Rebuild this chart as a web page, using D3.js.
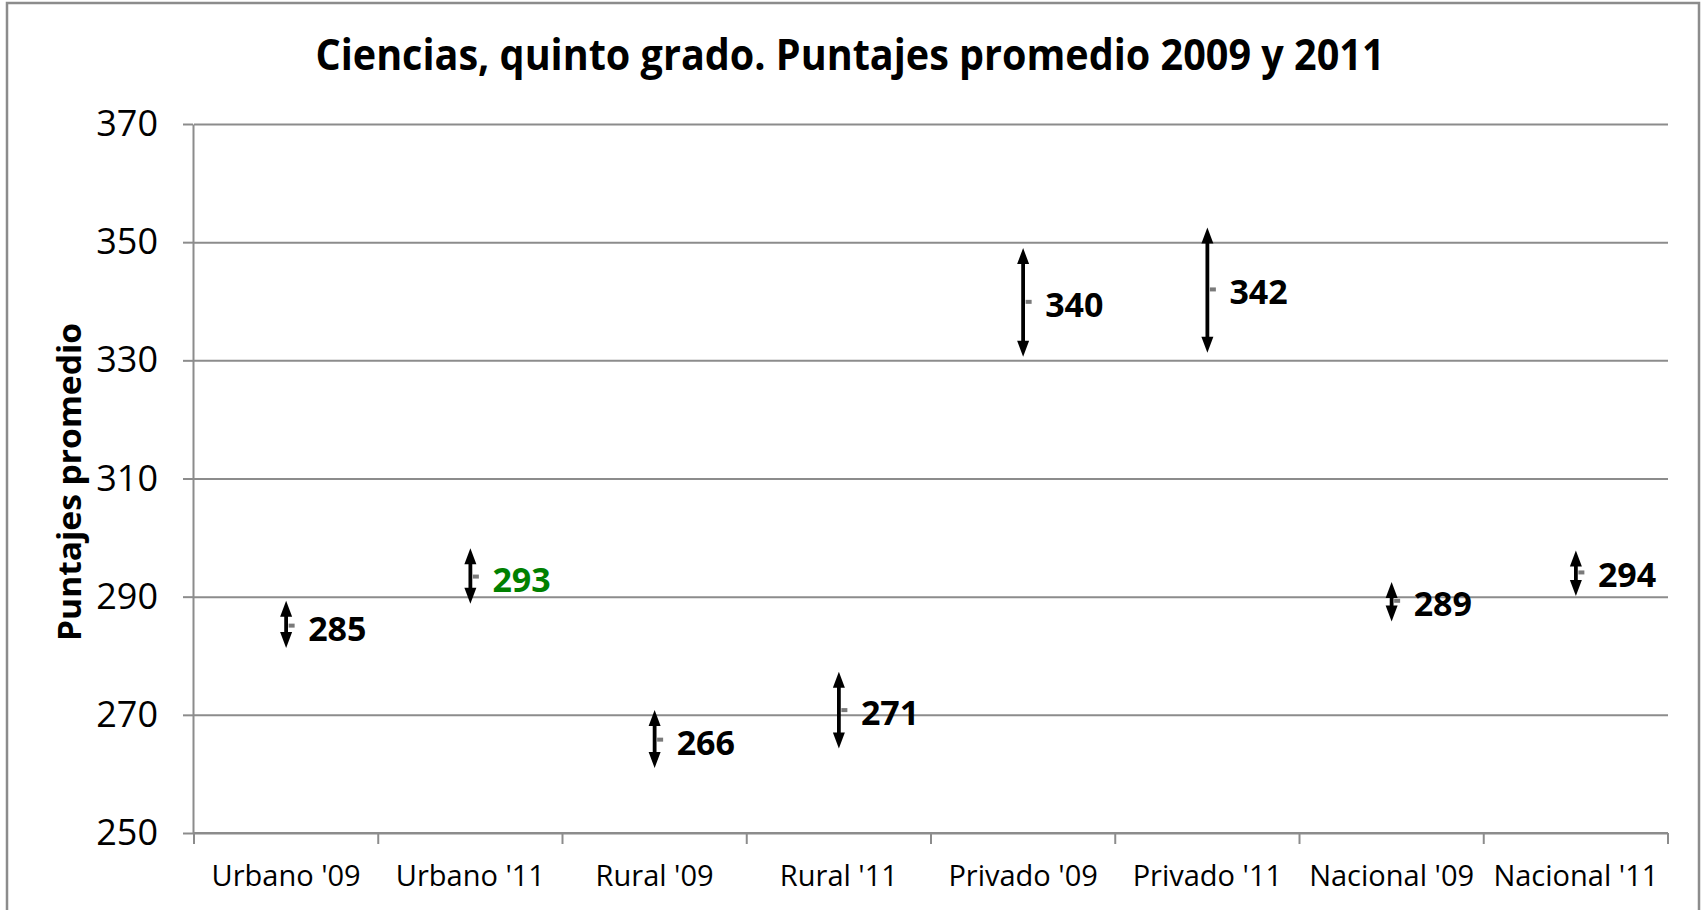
<!DOCTYPE html>
<html>
<head>
<meta charset="utf-8">
<script src="https://cdn.jsdelivr.net/npm/d3@7"></script>
<style>
  body { margin: 0; background: #fff; }
  svg { display: block; }
</style>
</head>
<body>
<div id="chart"></div>
<script>
  // values (means and the ends of each arrow)
  const categories = ["Urbano '09", "Urbano '11", "Rural '09", "Rural '11", "Privado '09", "Privado '11", "Nacional '09", "Nacional '11"];
  const means = [285.1, 293.4, 265.8, 270.8, 339.9, 342.0, 289.3, 294.1];
  const lower = [281.3, 288.8, 261.0, 264.3, 330.6, 331.3, 285.8, 290.1];
  const upper = [289.3, 298.2, 270.8, 277.3, 349.0, 352.5, 292.5, 297.8];
  const yTicks = [250, 270, 290, 310, 330, 350, 370];
  const highlighted = ["Urbano '11"];

  const width = 1701
      , height = 910
      , plotLeft = 194
      , plotRight = 1668
      , plotTop = 124
      , plotBottom = 833
      , gridColor = '#8c8c8c'
      , fontFam = '"Open Sans", "DejaVu Sans", sans-serif'
      ;

  const rows = categories.map((c, i) => ({ cat: c, mean: means[i], lo: lower[i], hi: upper[i] }));

  const x = d3.scaleBand()
    .domain(categories)
    .range([plotLeft, plotRight]);

  const y = d3.scaleLinear()
    .domain([250, 370])
    .range([plotBottom, plotTop]);

  const svg = d3.select('#chart')
    .append('svg')
    .attr('width', width)
    .attr('height', height);

  // outer chart frame (bottom edge is cut off in the picture)
  svg.append('path')
    .attr('d', `M7,${height + 5}V3H1699V${height + 5}`)
    .attr('fill', 'none')
    .attr('stroke', gridColor)
    .attr('stroke-width', 2.5);

  svg.append('text')
    .attr('x', 850)
    .attr('y', 70)
    .attr('text-anchor', 'middle')
    .attr('textLength', 1069)
    .attr('lengthAdjust', 'spacingAndGlyphs')
    .style('font', `bold 43px ${fontFam}`)
    .text('Ciencias, quinto grado. Puntajes promedio 2009 y 2011');

  // gridlines
  svg.append('g')
    .attr('transform', `translate(${plotLeft},0)`)
    .call(d3.axisLeft(y).tickValues(yTicks).tickSize(-(plotRight - plotLeft)).tickFormat(''))
    .call(g => g.select('.domain').remove())
    .call(g => g.selectAll('line').attr('stroke', gridColor).attr('stroke-width', 2));

  // y axis
  svg.append('g')
    .attr('transform', `translate(${plotLeft - 1},0)`)
    .call(d3.axisLeft(y).tickValues(yTicks).tickSizeInner(10).tickSizeOuter(0).tickPadding(25))
    .call(g => g.select('.domain').attr('stroke', gridColor).attr('stroke-width', 2))
    .call(g => g.selectAll('line').attr('stroke', gridColor).attr('stroke-width', 2))
    .call(g => g.selectAll('text')
      .attr('fill', '#000')
      .style('font', `36px ${fontFam}`));

  svg.append('text')
    .attr('transform', `translate(81,${482}) rotate(-90)`)
    .attr('text-anchor', 'middle')
    .attr('textLength', 318)
    .attr('lengthAdjust', 'spacingAndGlyphs')
    .style('font', `bold 32px ${fontFam}`)
    .text('Puntajes promedio');

  // x axis: line, boundary ticks, labels
  const xAxis = svg.append('g');
  xAxis.append('line')
    .attr('x1', plotLeft - 1).attr('x2', plotRight)
    .attr('y1', y(250)).attr('y2', y(250))
    .attr('stroke', gridColor).attr('stroke-width', 2);

  xAxis.selectAll('.bound')
    .data(categories.map(c => x(c)).concat([x.range()[1]]))
    .join('line')
      .attr('class', 'bound')
      .attr('x1', d => d).attr('x2', d => d)
      .attr('y1', y(250)).attr('y2', y(250) + 11)
      .attr('stroke', gridColor).attr('stroke-width', 2);

  xAxis.selectAll('.xlab')
    .data(categories)
    .join('text')
      .attr('class', 'xlab')
      .attr('x', d => x(d) + x.bandwidth() / 2)
      .attr('y', 886)
      .attr('text-anchor', 'middle')
      .style('font', `29px ${fontFam}`)
      .text(d => d);

  // double-headed arrows for the ranges
  const head = 16, halfW = 6;
  const cx = d => x(d.cat) + x.bandwidth() / 2;

  const marks = svg.append('g')
    .selectAll('g')
    .data(rows)
    .join('g');

  marks.append('line')
    .attr('x1', cx).attr('x2', cx)
    .attr('y1', d => y(d.hi) + head - 2)
    .attr('y2', d => y(d.lo) - head + 2)
    .attr('stroke', '#000')
    .attr('stroke-width', 3.8);

  marks.append('path')
    .attr('d', d => {
      const c = cx(d), t = y(d.hi), b = y(d.lo);
      return `M${c},${t}L${c + halfW},${t + head}L${c - halfW},${t + head}Z` +
             `M${c},${b}L${c + halfW},${b - head}L${c - halfW},${b - head}Z`;
    })
    .attr('fill', '#000');

  // small mean marker
  marks.append('rect')
    .attr('x', d => cx(d) + 2.5)
    .attr('y', d => y(d.mean) - 2)
    .attr('width', 6)
    .attr('height', 4)
    .attr('fill', '#7a7a7a');

  marks.append('text')
    .attr('x', d => cx(d) + 22)
    .attr('y', d => y(d.mean) + 2)
    .attr('dominant-baseline', 'central')
    .attr('fill', d => highlighted.includes(d.cat) ? '#008000' : '#000')
    .style('font', `bold 34px ${fontFam}`)
    .text(d => Math.round(d.mean));
</script>
</body>
</html>
